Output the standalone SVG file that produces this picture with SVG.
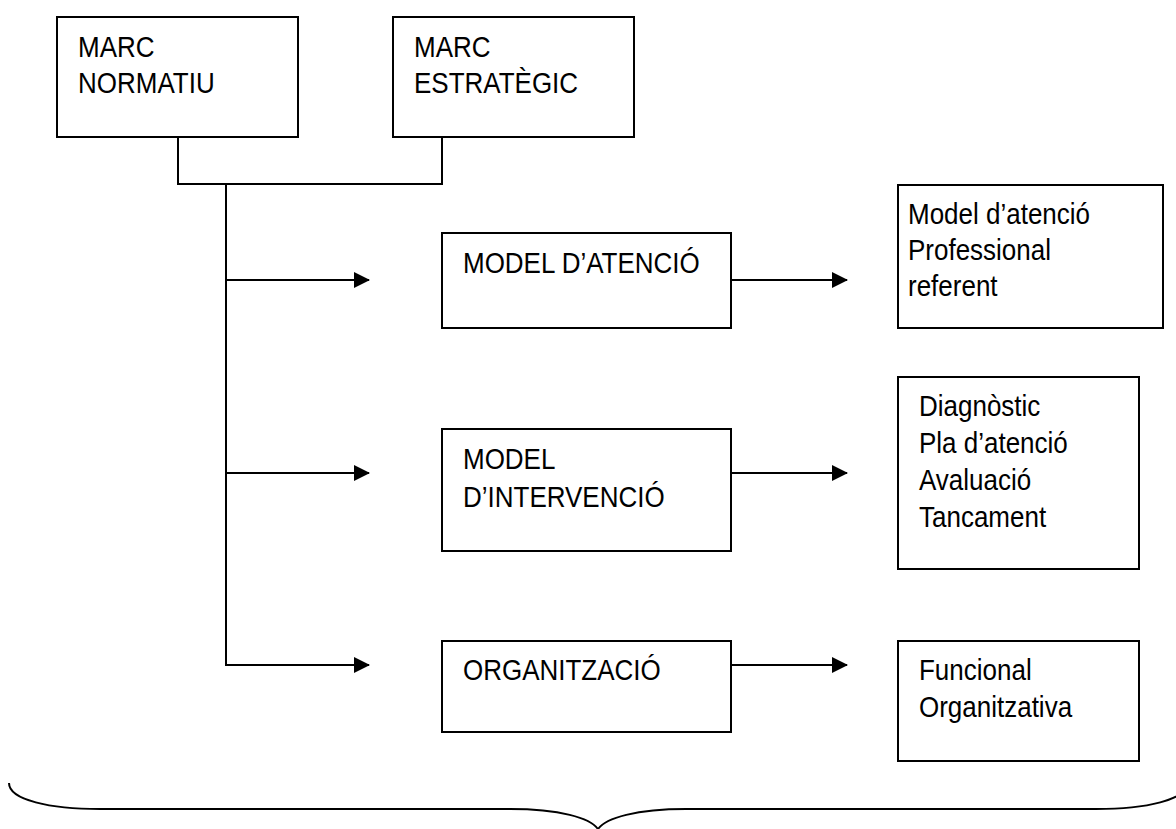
<svg xmlns="http://www.w3.org/2000/svg" width="1176" height="829" viewBox="0 0 1176 829">
<style>
.box{fill:#fff;stroke:#000;stroke-width:2}
.t{font-family:"Liberation Sans",Arial,sans-serif;font-size:26px;fill:#000}
.ln{fill:none;stroke:#000;stroke-width:2}
</style>
<defs>
<marker id="ah" markerUnits="userSpaceOnUse" markerWidth="16" markerHeight="16" viewBox="0 0 16 16" refX="15" refY="8" orient="auto">
<path d="M0,0 L16,8 L0,16 Z" fill="#000"/>
</marker>
</defs>
<rect width="1176" height="829" fill="#fff"/>
<g id="connectors">
<polyline class="ln" points="178,137 178,184 442,184 442,137"/>
<line class="ln" x1="226" y1="184" x2="226" y2="665"/>
<line class="ln" x1="226" y1="280" x2="369" y2="280" marker-end="url(#ah)"/>
<line class="ln" x1="226" y1="473" x2="369" y2="473" marker-end="url(#ah)"/>
<line class="ln" x1="225" y1="665" x2="369" y2="665" marker-end="url(#ah)"/>
<line class="ln" x1="731" y1="280" x2="847" y2="280" marker-end="url(#ah)"/>
<line class="ln" x1="731" y1="473" x2="847" y2="473" marker-end="url(#ah)"/>
<line class="ln" x1="731" y1="665" x2="847" y2="665" marker-end="url(#ah)"/>
<path class="ln" stroke-width="1.6" d="M9,783 C9,800 50,809 100,809 L510,809 C560,809 590,818 598,829 C606,818 636,809 686,809 L1096,809 C1146,809 1187,800 1187,783"/>
</g>
<g id="marc-normatiu">
<rect class="box" x="57" y="17" width="241" height="120"/>
<text class="t" transform="translate(78,57) scale(1,1.15)">MARC</text>
<text class="t" transform="translate(78,93) scale(1,1.15)">NORMATIU</text>
</g>
<g id="marc-estrategic">
<rect class="box" x="393" y="17" width="241" height="120"/>
<text class="t" transform="translate(414,57) scale(1,1.15)">MARC</text>
<text class="t" transform="translate(414,93) scale(1,1.15)">ESTRATÈGIC</text>
</g>
<g id="model-atencio">
<rect class="box" x="442" y="233" width="289" height="95"/>
<text class="t" transform="translate(463,273) scale(1,1.15)">MODEL D’ATENCIÓ</text>
</g>
<g id="model-intervencio">
<rect class="box" x="442" y="429" width="289" height="122"/>
<text class="t" transform="translate(463,469) scale(1,1.15)">MODEL</text>
<text class="t" transform="translate(463,507) scale(1,1.15)">D’INTERVENCIÓ</text>
</g>
<g id="organitzacio">
<rect class="box" x="442" y="641" width="289" height="91"/>
<text class="t" transform="translate(463,680) scale(1,1.15)">ORGANITZACIÓ</text>
</g>
<g id="detall-atencio">
<rect class="box" x="898" y="185" width="265" height="143"/>
<text class="t" transform="translate(908,224) scale(1,1.15)">Model d’atenció</text>
<text class="t" transform="translate(908,260) scale(1,1.15)">Professional</text>
<text class="t" transform="translate(908,296) scale(1,1.15)">referent</text>
</g>
<g id="detall-intervencio">
<rect class="box" x="898" y="377" width="241" height="192"/>
<text class="t" transform="translate(919,416) scale(1,1.15)">Diagnòstic</text>
<text class="t" transform="translate(919,453) scale(1,1.15)">Pla d’atenció</text>
<text class="t" transform="translate(919,490) scale(1,1.15)">Avaluació</text>
<text class="t" transform="translate(919,527) scale(1,1.15)">Tancament</text>
</g>
<g id="detall-organitzacio">
<rect class="box" x="898" y="641" width="241" height="120"/>
<text class="t" transform="translate(919,680) scale(1,1.15)">Funcional</text>
<text class="t" transform="translate(919,717) scale(1,1.15)">Organitzativa</text>
</g>
</svg>
